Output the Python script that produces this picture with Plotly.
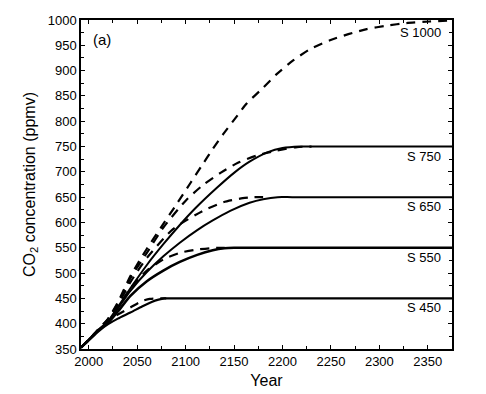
import plotly.graph_objects as go

# ---- data ----
s450_years = [1992, 2000, 2010, 2020, 2030, 2043, 2055, 2065, 2072, 2078, 2090, 2375]
s450_ppm   = [353, 367, 385, 399, 410, 422, 434, 443, 447.5, 450, 450, 450]

s550_years = [1992, 2000, 2010, 2020, 2030, 2043, 2060, 2077, 2094, 2112, 2128, 2140, 2150, 2165, 2375]
s550_ppm   = [353, 368, 387, 402, 424, 455, 484, 505, 522, 536, 545, 549, 550, 550, 550]

s650_years = [1992, 2000, 2010, 2020, 2030, 2043, 2060, 2077, 2094, 2112, 2128, 2146, 2166, 2180, 2195, 2210, 2375]
s650_ppm   = [353, 368, 387, 404, 430, 465, 502, 533, 560, 585, 604, 623, 639, 646, 650, 650, 650]

s750_years = [1992, 2000, 2010, 2020, 2030, 2043, 2060, 2077, 2094, 2110, 2132, 2150, 2166, 2185, 2200, 2218, 2235, 2375]
s750_ppm   = [353, 368, 388, 405, 433, 470, 516, 557, 595, 628, 668, 698, 720, 739, 747, 750, 750, 750]

wre450_years = [1992, 2000, 2010, 2020, 2030, 2043, 2055, 2063, 2070, 2080]
wre450_ppm   = [353, 368, 388, 406, 418, 432, 445, 449, 450, 450]

wre550_years = [1992, 2000, 2010, 2020, 2030, 2043, 2060, 2077, 2094, 2110, 2125, 2135, 2145]
wre550_ppm   = [353, 368, 388, 407, 432, 470, 505, 527, 540, 546, 549, 550, 550]

wre650_years = [1992, 2000, 2010, 2020, 2030, 2043, 2060, 2087, 2118, 2139, 2159, 2170, 2180]
wre650_ppm   = [353, 368, 388, 408, 437, 482, 530, 587, 623, 640, 648, 650, 650]

wre750_years = [1992, 2000, 2010, 2020, 2030, 2043, 2060, 2077, 2101, 2118, 2136, 2154, 2173, 2194, 2215, 2230]
wre750_ppm   = [353, 368, 389, 409, 440, 490, 540, 590, 645, 674, 698, 718, 732, 742, 749, 750]

wre1000_years = [1992, 2000, 2010, 2020, 2030, 2043, 2060, 2077, 2092, 2105, 2118, 2128, 2139, 2151,
                 2163, 2180, 2194, 2211, 2228, 2249, 2268, 2287, 2308, 2328, 2352, 2375]
wre1000_ppm   = [353, 368, 389, 410, 442, 494, 548, 597, 640, 678, 716, 745, 775, 805,
                 835, 866, 893, 920, 942, 960, 972, 982, 989, 994, 997, 999]

label_text = ["S 1000", "S 750", "S 650", "S 550", "S 450"]
label_ppm  = [975, 731, 631, 531, 432]

x_ticks = [2000, 2050, 2100, 2150, 2200, 2250, 2300, 2350]
y_ticks = [350, 400, 450, 500, 550, 600, 650, 700, 750, 800, 850, 900, 950, 1000]

FONT = "Liberation Sans, Arial, Helvetica, sans-serif"

fig = go.Figure()

solid = [(s450_years, s450_ppm, 2.2), (s550_years, s550_ppm, 2.6),
         (s650_years, s650_ppm, 2.0), (s750_years, s750_ppm, 2.0)]
for xs, ys, w in solid:
    fig.add_trace(go.Scatter(x=xs, y=ys, mode="lines",
                             line=dict(color="black", width=w, shape="spline", smoothing=0.6),
                             showlegend=False, hoverinfo="skip"))

dashed = [wre450_years, wre450_ppm], [wre550_years, wre550_ppm], [wre650_years, wre650_ppm], \
         [wre750_years, wre750_ppm], [wre1000_years, wre1000_ppm]
for xs, ys in dashed:
    fig.add_trace(go.Scatter(x=xs, y=ys, mode="lines",
                             line=dict(color="black", width=2.2, dash="9px,7px", shape="spline", smoothing=0.6),
                             showlegend=False, hoverinfo="skip"))

for t, yv in zip(label_text, label_ppm):
    fig.add_annotation(x=2366, y=yv, xref="x", yref="y", text=t, showarrow=False,
                       xanchor="right", yanchor="middle",
                       font=dict(family=FONT, size=13, color="black"))

fig.add_annotation(x=0.057, y=0.94, xref="paper", yref="paper", text="(a)", showarrow=False,
                   xanchor="center", yanchor="middle",
                   font=dict(family=FONT, size=15, color="black"))

axis_common = dict(showline=True, linecolor="black", linewidth=1.5, mirror="allticks",
                   ticks="inside", ticklen=4, tickcolor="black", tickwidth=1,
                   showgrid=False, zeroline=False, automargin=False,
                   tickfont=dict(family=FONT, size=13, color="black"))

fig.update_xaxes(range=[1992, 2375], tickvals=x_ticks,
                 minor=dict(dtick=25, tick0=2000, ticks="inside", ticklen=3, tickcolor="black"),
                 title=dict(text="Year", font=dict(family=FONT, size=16, color="black"), standoff=6),
                 **axis_common)
fig.update_yaxes(range=[350, 1000], tickvals=y_ticks,
                 minor=dict(dtick=25, tick0=350, ticks="inside", ticklen=3, tickcolor="black"),
                 title=dict(text="CO<sub>2</sub> concentration (ppmv)",
                            font=dict(family=FONT, size=16, color="black"), standoff=8),
                 **axis_common)

# page body adds an 8px offset, so the figure is drawn 8px smaller with shifted margins
fig.update_layout(width=478, height=386,
                  margin=dict(l=73, r=34, t=12, b=45),
                  paper_bgcolor="white", plot_bgcolor="white",
                  showlegend=False)

fig.write_html("out.html")
